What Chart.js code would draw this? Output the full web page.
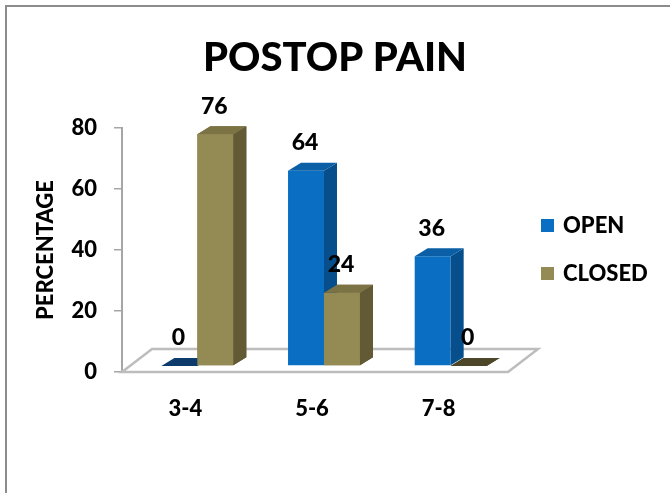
<!DOCTYPE html>
<html>
<head>
<meta charset="utf-8">
<title>POSTOP PAIN</title>
<script src="https://cdn.jsdelivr.net/npm/chart.js@4.4.1/dist/chart.umd.min.js"></script>
<style>
    html, body { margin: 0; padding: 0; background: #fff; }
    #wrap { width: 670px; height: 493px; }
</style>
</head>
<body>
<div id="wrap"><canvas id="pain-chart" width="670" height="493"></canvas></div>
<script>
// 数据
const categories = ['3-4', '5-6', '7-8'];
const openValues = [0, 64, 36];
const closedValues = [76, 24, 0];
const seriesNames = ['OPEN', 'CLOSED'];
const yMin = 0;
const yMax = 80;
const yStep = 20;

// 颜色：正面 / 侧面 / 顶面 / 零值底面
const openColors = { front: '#0a6fc2', side: '#064f8c', top: '#0a5fa6', flat: '#0d3b6b' };
const closedColors = { front: '#948a54', side: '#615a35', top: '#7c7345', flat: '#4e4628' };

// 伪 3D 参数
const BAR_SHIFT = { x: 12, y: -6 };
const BAR_DEPTH = { x: 13, y: -8 };
const FLOOR_DEPTH = { x: 30, y: -23 };
const FONT = 'Lato, "Open Sans", sans-serif';
const WEIGHT = 900;

Chart.defaults.font.family = FONT;
Chart.defaults.color = '#000';

function faceColors(index) {
    return index === 0 ? openColors : closedColors;
}

function fillPoly(ctx, color, pts) {
    ctx.fillStyle = color;
    ctx.beginPath();
    ctx.moveTo(pts[0][0], pts[0][1]);
    for (let i = 1; i < pts.length; i++) ctx.lineTo(pts[i][0], pts[i][1]);
    ctx.closePath();
    ctx.fill();
}

// 画柱子的侧面和顶面（零值只画底面）
function drawFaces(ctx, meta) {
    const c = faceColors(meta.index);
    const dx = BAR_DEPTH.x, dy = BAR_DEPTH.y;
    meta.data.forEach(bar => {
        const p = bar.getProps(['x', 'y', 'base', 'width'], true);
        const l = p.x - p.width / 2, r = p.x + p.width / 2;
        const t = Math.min(p.y, p.base), b = Math.max(p.y, p.base);
        if (b - t < 0.5) {
            fillPoly(ctx, c.flat, [[l, b], [r, b], [r + dx, b + dy], [l + dx, b + dy]]);
            return;
        }
        fillPoly(ctx, c.side, [[r, t], [r + dx, t + dy], [r + dx, b + dy], [r, b]]);
        fillPoly(ctx, c.top, [[l, t], [l + dx, t + dy], [r + dx, t + dy], [r, t]]);
    });
}

const threeD = {
    id: 'threeD',
    beforeDraw(chart) {
        // 外框
        const ctx = chart.ctx;
        ctx.save();
        ctx.strokeStyle = '#8c8c8c';
        ctx.lineWidth = 2;
        ctx.beginPath();
        ctx.moveTo(6, chart.height);
        ctx.lineTo(6, 6);
        ctx.lineTo(chart.width, 6);
        ctx.stroke();
        ctx.restore();
    },
    beforeDatasetsDraw(chart) {
        // 底板
        const { ctx, chartArea: a } = chart;
        ctx.save();
        ctx.fillStyle = '#fff';
        ctx.strokeStyle = '#bdbdbd';
        ctx.lineWidth = 2.5;
        ctx.beginPath();
        ctx.moveTo(a.left, a.bottom);
        ctx.lineTo(a.right + 6, a.bottom);
        ctx.lineTo(a.right + 6 + FLOOR_DEPTH.x, a.bottom + FLOOR_DEPTH.y);
        ctx.lineTo(a.left + FLOOR_DEPTH.x, a.bottom + FLOOR_DEPTH.y);
        ctx.closePath();
        ctx.fill();
        ctx.stroke();
        ctx.restore();
    },
    beforeDatasetDraw(chart) {
        chart.ctx.save();
        chart.ctx.translate(BAR_SHIFT.x, BAR_SHIFT.y);
    },
    afterDatasetDraw(chart, args) {
        drawFaces(chart.ctx, args.meta);
        chart.ctx.restore();
    },
    afterDatasetsDraw(chart) {
        const ctx = chart.ctx;
        ctx.save();
        ctx.translate(BAR_SHIFT.x, BAR_SHIFT.y);
        // Chart.js 先画后面的数据集，这里把 CLOSED 再画一遍压在 OPEN 上面
        for (let i = 1; i < chart.data.datasets.length; i++) {
            const meta = chart.getDatasetMeta(i);
            meta.data.forEach(bar => bar.draw(ctx));
            drawFaces(ctx, meta);
        }
        // 数值标签
        ctx.font = WEIGHT + ' 23px ' + FONT;
        ctx.fillStyle = '#000';
        ctx.textAlign = 'center';
        ctx.textBaseline = 'middle';
        chart.data.datasets.forEach((ds, i) => {
            chart.getDatasetMeta(i).data.forEach((bar, j) => {
                const p = bar.getProps(['x', 'y'], true);
                ctx.fillText(String(ds.data[j]), p.x - 1, p.y - 28);
            });
        });
        ctx.restore();

        // 图例
        const a = chart.chartArea;
        ctx.save();
        ctx.font = WEIGHT + ' 22px ' + FONT;
        ctx.textAlign = 'left';
        ctx.textBaseline = 'middle';
        chart.data.datasets.forEach((ds, i) => {
            const y = 226 + i * 48;
            ctx.fillStyle = ds.backgroundColor;
            ctx.fillRect(a.right + 39, y - 7, 13, 13);
            ctx.fillStyle = '#000';
            ctx.fillText(ds.label, a.right + 61, y);
        });
        ctx.restore();
    }
};

const ctx = document.getElementById('pain-chart').getContext('2d');
const painChart = new Chart(ctx, {
    type: 'bar',
    data: {
        labels: categories,
        datasets: [
            {
                label: seriesNames[0],
                data: openValues,
                backgroundColor: openColors.front,
                clip: false
            },
            {
                label: seriesNames[1],
                data: closedValues,
                backgroundColor: closedColors.front,
                clip: false
            }
        ]
    },
    options: {
        responsive: false,
        animation: false,
        events: [],
        layout: {
            padding: 0
        },
        datasets: {
            bar: {
                categoryPercentage: 0.568,
                barPercentage: 1
            }
        },
        plugins: {
            legend: { display: false },
            tooltip: { enabled: false },
            title: {
                display: true,
                text: 'POSTOP PAIN',
                color: '#000',
                font: { size: 40, weight: WEIGHT },
                padding: { top: 34, bottom: 46 }
            }
        },
        scales: {
            x: {
                grid: { display: false },
                border: { display: false },
                ticks: {
                    font: { size: 22, weight: WEIGHT },
                    padding: 16
                },
                afterFit(scale) { scale.height = 121; }
            },
            y: {
                min: yMin,
                max: yMax,
                border: { color: '#a6a6a6', width: 2 },
                grid: {
                    drawOnChartArea: false,
                    drawTicks: true,
                    tickLength: 8,
                    color: '#a6a6a6',
                    lineWidth: 1.5
                },
                ticks: {
                    stepSize: yStep,
                    font: { size: 22, weight: WEIGHT },
                    padding: 17
                },
                title: {
                    display: true,
                    text: 'PERCENTAGE',
                    font: { size: 22, weight: WEIGHT },
                    padding: { top: 33, bottom: 0 }
                },
                afterFit(scale) { scale.width = 122; }
            },
            // 右侧留给图例的空白轴
            legendSpace: {
                type: 'linear',
                position: 'right',
                grid: { display: false },
                border: { display: false },
                ticks: { display: false },
                afterFit(scale) { scale.width = 168; }
            }
        }
    },
    plugins: [threeD]
});
</script>
</body>
</html>
